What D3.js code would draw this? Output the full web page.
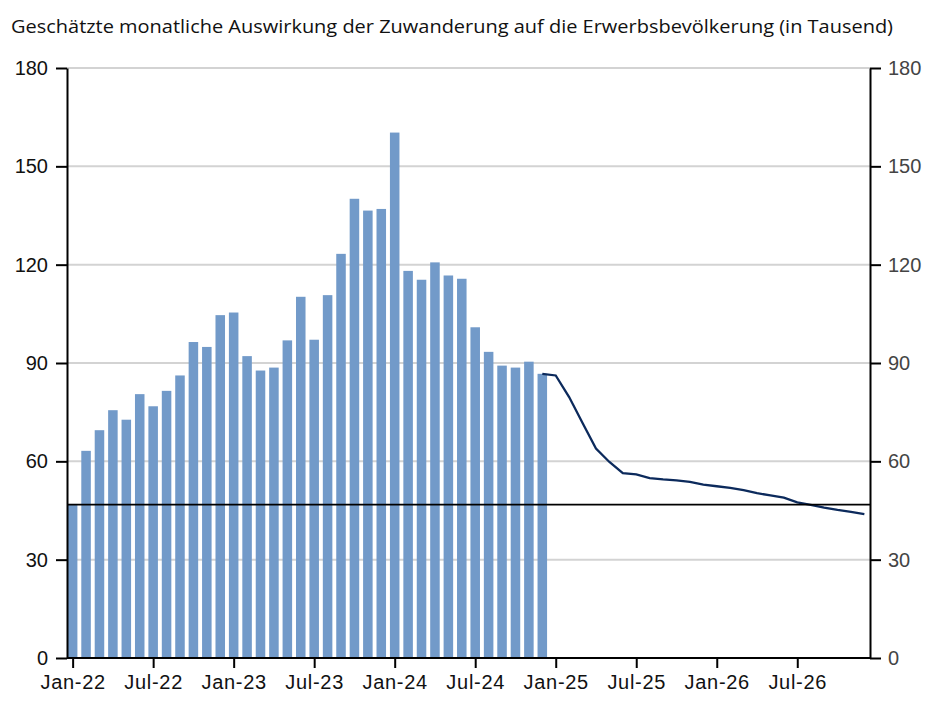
<!DOCTYPE html>
<html>
<head>
<meta charset="utf-8">
<script src="https://cdn.jsdelivr.net/npm/d3@7"></script>
<style>
  body { margin: 0; background: #fff; }
  svg { display: block; }
</style>
</head>
<body>
<svg id="chart" width="930" height="710"></svg>
<script>
// Monatswerte (Tausend), Jan-22 bis Dez-24
const barValues = [
  47.0, 63.2, 69.5, 75.6, 72.7, 80.5, 76.8, 81.5, 86.2, 96.4, 94.9, 104.6,
  105.4, 92.1, 87.7, 88.6, 96.9, 110.2, 97.1, 110.7, 123.3, 140.1, 136.5, 137.0,
  160.3, 118.1, 115.4, 120.7, 116.7, 115.7, 100.9, 93.4, 89.2, 88.6, 90.4, 86.7
];
// Prognose, Dez-24 bis Dez-26
const lineValues = [
  86.7, 86.2, 79.6, 71.7, 63.9, 59.8, 56.4, 56.0, 54.9, 54.5, 54.2, 53.7, 52.9,
  52.4, 51.9, 51.2, 50.3, 49.6, 48.9, 47.5, 46.7, 45.9, 45.2, 44.6, 43.9
];
const refValue = 46.8;
const yTicks = [0, 30, 60, 90, 120, 150, 180];
const monthNames = ["Jan", "Feb", "Mar", "Apr", "May", "Jun", "Jul", "Aug", "Sep", "Oct", "Nov", "Dec"];
const years = [22, 23, 24, 25, 26];
const months = years.flatMap(yy => monthNames.map(m => `${m}-${yy}`));
const tickLabels = ["Jan-22", "Jul-22", "Jan-23", "Jul-23", "Jan-24", "Jul-24", "Jan-25", "Jul-25", "Jan-26", "Jul-26"];
const title = "Geschätzte monatliche Auswirkung der Zuwanderung auf die Erwerbsbevölkerung (in Tausend)";

const svg = d3.select("#chart");
const mLeft = 67, mRight = 870, mTop = 68, mBottom = 658;

const x = d3.scalePoint().domain(months).range([mLeft, mRight]).padding(0.42);
const y = d3.scaleLinear().domain([0, 180]).range([mBottom, mTop]);
const barW = x.step() * 0.71;

// Titel
svg.append("text")
  .attr("x", 11).attr("y", 33)
  .attr("textLength", 882).attr("lengthAdjust", "spacingAndGlyphs")
  .style("font-family", "'Open Sans', sans-serif")
  .style("font-size", "19px")
  .attr("fill", "#111")
  .text(title);

// Gitterlinien
svg.append("g")
  .selectAll("line")
  .data(yTicks.filter(t => t > 0))
  .join("line")
  .attr("x1", mLeft).attr("x2", mRight)
  .attr("y1", d => y(d)).attr("y2", d => y(d))
  .attr("stroke", "#d3d3d3").attr("stroke-width", 2);

// Balken
const barMonths = months.slice(0, barValues.length);
const barX0 = i => Math.max(mLeft, x(barMonths[i]) - barW / 2);
svg.append("g")
  .selectAll("rect")
  .data(barValues)
  .join("rect")
  .attr("x", (d, i) => barX0(i))
  .attr("width", (d, i) => x(barMonths[i]) + barW / 2 - barX0(i))
  .attr("y", d => y(d))
  .attr("height", d => y(0) - y(d))
  .attr("fill", "#729ac9");

// Prognoselinie
const lineMonths = months.slice(barValues.length - 1);
svg.append("path")
  .datum(lineValues)
  .attr("fill", "none")
  .attr("stroke", "#0c2a5c")
  .attr("stroke-width", 2.3)
  .attr("d", d3.line().x((d, i) => x(lineMonths[i])).y(d => y(d)));

// Referenzlinie
svg.append("line")
  .attr("x1", mLeft).attr("x2", mRight)
  .attr("y1", y(refValue)).attr("y2", y(refValue))
  .attr("stroke", "#000").attr("stroke-width", 1.6);

// Achsen
const axisFont = g => g.selectAll("text")
  .style("font-family", "'Liberation Sans', Arial, sans-serif")
  .style("font-size", "20px");

const yl = svg.append("g")
  .attr("transform", `translate(${mLeft},0)`)
  .call(d3.axisLeft(y).tickValues(yTicks).tickSize(11).tickPadding(8).tickSizeOuter(0))
  .call(axisFont);
yl.selectAll("text").attr("fill", "#111");

const yr = svg.append("g")
  .attr("transform", `translate(${mRight},0)`)
  .call(d3.axisRight(y).tickValues(yTicks).tickSize(11).tickPadding(7).tickSizeOuter(0))
  .call(axisFont);
yr.selectAll("text").attr("fill", "#444");

const xb = svg.append("g")
  .attr("transform", `translate(0,${mBottom})`)
  .call(d3.axisBottom(x).tickValues(tickLabels).tickSize(10).tickPadding(7).tickSizeOuter(0))
  .call(axisFont);
xb.selectAll("text").attr("fill", "#111").style("letter-spacing", "0.7px");

svg.selectAll(".domain, .tick line").attr("stroke", "#000").attr("stroke-width", 2);
xb.select(".domain").attr("d", `M${mLeft},0H${mRight}`);
</script>
</body>
</html>
